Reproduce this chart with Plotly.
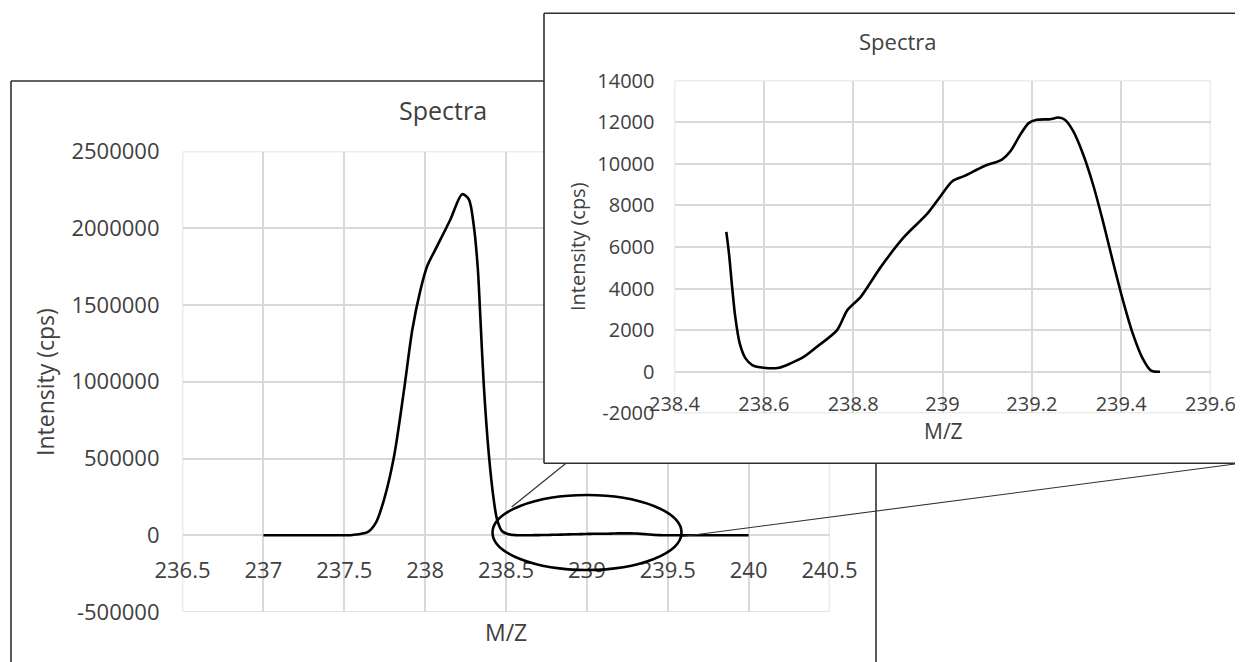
import plotly.graph_objects as go

# main spectrum: the big peak
peak_mz = [237.0, 237.2, 237.4, 237.55, 237.644, 237.695, 237.746, 237.808, 237.870, 237.921,
           237.972, 238.013, 238.075, 238.157, 238.229, 238.270, 238.301, 238.326, 238.342,
           238.363, 238.393, 238.424, 238.445, 238.476]
peak_int = [0, 0, 0, 2000, 19600, 80400, 232600, 515000, 950000, 1341000,
            1602000, 1754000, 1885000, 2059000, 2222000, 2189000, 2015000, 1733000, 1407000,
            972000, 537000, 232600, 102000, 26000]

# zoomed region (inset)
zoom_mz = [238.516, 238.522, 238.529, 238.536, 238.546, 238.559, 238.574, 238.600, 238.634,
           238.660, 238.690, 238.719, 238.764, 238.787, 238.817, 238.862, 238.914, 238.966,
           238.996, 239.022, 239.048, 239.093, 239.133, 239.152, 239.174, 239.193, 239.211,
           239.241, 239.259, 239.274, 239.293, 239.315, 239.337, 239.359, 239.381, 239.404,
           239.426, 239.448, 239.467, 239.487]
zoom_int = [6720, 5680, 4080, 2640, 1360, 640, 320, 190, 190,
            400, 720, 1200, 2000, 2960, 3600, 5040, 6480, 7600,
            8450, 9160, 9400, 9880, 10200, 10600, 11390, 11950, 12110,
            12140, 12220, 12110, 11550, 10440, 9000, 7250, 5340, 3430,
            1830, 640, 50, 0]

tail_mz = [239.6, 239.8, 240.0]
tail_int = [0, 0, 0]

# ticks
main_x_ticks = [236.5, 237, 237.5, 238, 238.5, 239, 239.5, 240, 240.5]
main_x_labels = ['236.5', '237', '237.5', '238', '238.5', '239', '239.5', '240', '240.5']
main_y_ticks = [-500000, 0, 500000, 1000000, 1500000, 2000000, 2500000]
main_y_labels = ['-500000', '0', '500000', '1000000', '1500000', '2000000', '2500000']
zoom_x_ticks = [238.4, 238.6, 238.8, 239, 239.2, 239.4, 239.6]
zoom_x_labels = ['238.4', '238.6', '238.8', '239', '239.2', '239.4', '239.6']
zoom_y_ticks = [-2000, 0, 2000, 4000, 6000, 8000, 10000, 12000, 14000]
zoom_y_labels = ['-2000', '0', '2000', '4000', '6000', '8000', '10000', '12000', '14000']

main_xr = [236.5, 240.5]
main_yr = [-500000, 2500000]
zoom_xr = [238.4, 239.6]
zoom_yr = [-2000, 14000]

# the page body has an 8px margin, so the figure is shrunk and shifted by it
OFF = 8
W, H = 1243 - OFF, 662 - OFF
FONT = 'Open Sans'
TXT = '#404040'
GRID = '#d9d9d9'


def px(x):
    return (x - OFF) / W


def py(y):
    return 1 - (y - OFF) / H


main_mz = peak_mz + zoom_mz + tail_mz
main_int = peak_int + zoom_int + tail_int

# plot areas (screen pixels)
main_dom_x = [px(182.5), px(829.5)]
main_dom_y = [py(612), py(151.5)]
ins_dom_x = [px(674.5), px(1210.5)]
ins_dom_y = [py(413.3), py(80.5)]
main_zero = main_dom_y[0] + (main_dom_y[1] - main_dom_y[0]) / 6
ins_zero = ins_dom_y[0] + (ins_dom_y[1] - ins_dom_y[0]) / 8

fig = go.Figure()
fig.add_trace(go.Scatter(x=main_mz, y=main_int, mode='lines',
                         line=dict(color='black', width=2.6, shape='spline', smoothing=0.8),
                         xaxis='x', yaxis='y', showlegend=False, hoverinfo='skip'))
# white cover for the inset frame (its own subplot background)
fig.add_trace(go.Scatter(x=[None], y=[None], xaxis='x2', yaxis='y2',
                         showlegend=False, hoverinfo='skip'))
fig.add_trace(go.Scatter(x=zoom_mz, y=zoom_int, mode='lines',
                         line=dict(color='black', width=2.6, shape='spline', smoothing=0.8),
                         xaxis='x3', yaxis='y3', showlegend=False, hoverinfo='skip'))

tickfont_main = dict(family=FONT, size=22, color=TXT)
tickfont_ins = dict(family=FONT, size=20, color=TXT)

fig.update_layout(
    width=W, height=H,
    margin=dict(l=0, r=0, t=0, b=0, pad=0, autoexpand=False),
    paper_bgcolor='white', plot_bgcolor='white',
    showlegend=False,
    xaxis=dict(domain=main_dom_x, range=main_xr, anchor='free', position=main_zero,
               tickvals=main_x_ticks, ticktext=main_x_labels, tickfont=tickfont_main,
               showgrid=True, gridcolor=GRID, gridwidth=1.5, zeroline=False, showline=False,
               ticks='', ticklabelstandoff=20, automargin=False, fixedrange=True),
    yaxis=dict(domain=main_dom_y, range=main_yr, anchor='x',
               tickvals=main_y_ticks, ticktext=main_y_labels, tickfont=tickfont_main,
               showgrid=True, gridcolor=GRID, gridwidth=1.5, zeroline=True,
               zerolinecolor=GRID, zerolinewidth=1.5, showline=False,
               ticks='', ticklabelstandoff=22, automargin=False, fixedrange=True),
    xaxis2=dict(domain=[px(544), 1.0], range=[0, 1], anchor='y2', visible=False,
                automargin=False, fixedrange=True),
    yaxis2=dict(domain=[py(463.3), py(13.3)], range=[0, 1], anchor='x2', visible=False,
                automargin=False, fixedrange=True),
    xaxis3=dict(domain=ins_dom_x, range=zoom_xr, anchor='free', position=ins_zero,
                tickvals=zoom_x_ticks, ticktext=zoom_x_labels, tickfont=tickfont_ins,
                showgrid=True, gridcolor=GRID, gridwidth=1.5, zeroline=False, showline=False,
                ticks='', ticklabelstandoff=18, automargin=False, fixedrange=True),
    yaxis3=dict(domain=ins_dom_y, range=zoom_yr, anchor='x3',
                tickvals=zoom_y_ticks, ticktext=zoom_y_labels, tickfont=tickfont_ins,
                showgrid=True, gridcolor=GRID, gridwidth=1.5, zeroline=True,
                zerolinecolor=GRID, zerolinewidth=1.5, showline=False,
                ticks='', ticklabelstandoff=19, automargin=False, fixedrange=True),
)

# gridlines on the edges of both plot areas
fig.add_shape(type='rect', xref='x', yref='y', x0=main_xr[0], x1=main_xr[1],
              y0=main_yr[0], y1=main_yr[1], line=dict(color=GRID, width=1.5), layer='below')
fig.add_shape(type='rect', xref='x3', yref='y3', x0=zoom_xr[0], x1=zoom_xr[1],
              y0=zoom_yr[0], y1=zoom_yr[1], line=dict(color=GRID, width=1.5), layer='below')

# titles
ann = [
    dict(text='Spectra', x=px(443), y=py(110), size=25),
    dict(text='M/Z', x=px(506), y=py(632), size=23),
    dict(text='Intensity (cps)', x=px(45), y=py(382), size=23, angle=-90),
    dict(text='Spectra', x=px(897), y=py(41), size=22),
    dict(text='M/Z', x=px(943), y=py(431), size=21),
    dict(text='Intensity (cps)', x=px(577), y=py(247), size=20, angle=-90),
]
for a in ann:
    fig.add_annotation(text=a['text'], x=a['x'], y=a['y'], xref='paper', yref='paper',
                       xanchor='center', yanchor='middle', showarrow=False,
                       textangle=a.get('angle', 0),
                       font=dict(family=FONT, size=a['size'], color=TXT))

frame = dict(color='#303030', width=1.6)
thin = dict(color='#303030', width=1.1)
R, B = 1250, 670
lines = [
    # main chart frame
    (11, 81, 11, B, frame), (11, 81, 544, 81, frame), (876, 463.3, 876, B, frame),
    # inset frame
    (544, 13.3, R, 13.3, frame), (544, 13.3, 544, 463.3, frame), (544, 463.3, R, 463.3, frame),
    # connectors from the ellipse to the inset
    (511.7, 507, 566, 463.3, thin), (682, 536.5, 1243, 463, thin),
]
for x0, y0, x1, y1, ln in lines:
    fig.add_shape(type='line', xref='paper', yref='paper', x0=px(x0), y0=py(y0),
                  x1=px(x1), y1=py(y1), line=ln, layer='above')

fig.add_shape(type='circle', xref='paper', yref='paper',
              x0=px(492.5), x1=px(681.5), y0=py(570), y1=py(495),
              line=dict(color='black', width=2.6), fillcolor='rgba(0,0,0,0)', layer='above')

fig.write_html("out.html", config=dict(displayModeBar=False))
